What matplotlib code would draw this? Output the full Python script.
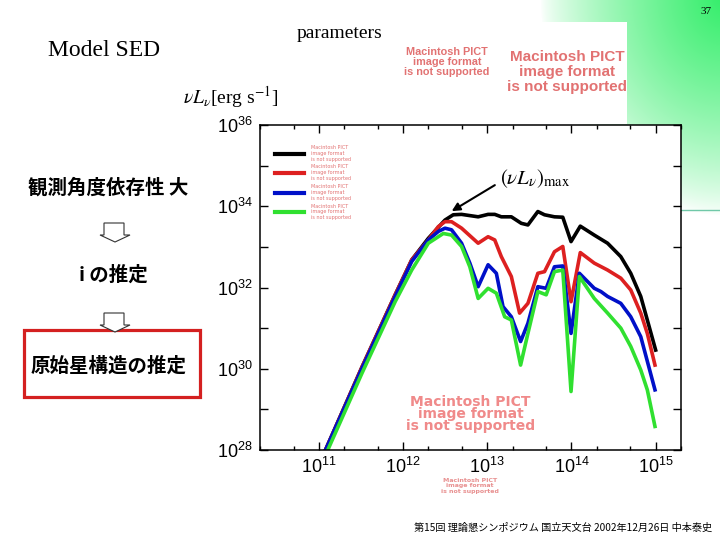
import numpy as np
import matplotlib.pyplot as plt
from matplotlib.patches import Rectangle, Polygon
from matplotlib.ticker import LogLocator, FuncFormatter, NullFormatter

# SED curves (log10 nu [Hz], log10 nuL_nu [erg/s])
log_nu_black = [11.0, 11.079, 11.512, 11.906, 12.103, 12.300, 12.498, 12.596, 12.695, 12.892,
                13.010, 13.089, 13.167, 13.286, 13.404, 13.483, 13.601, 13.680, 13.798, 13.897,
                13.995, 14.105, 14.271, 14.429, 14.586, 14.704, 14.823, 14.901, 15.0]
log_L_black = [27.66, 28.0, 30.04, 31.82, 32.68, 33.21, 33.66, 33.79, 33.80, 33.74,
               33.80, 33.80, 33.74, 33.74, 33.58, 33.54, 33.87, 33.79, 33.74, 33.73,
               33.13, 33.51, 33.29, 33.09, 32.76, 32.35, 31.78, 31.20, 30.46]

log_nu_red = [11.0, 11.079, 11.512, 11.906, 12.103, 12.300, 12.419, 12.498, 12.576, 12.695,
              12.892, 13.010, 13.089, 13.167, 13.286, 13.384, 13.483, 13.601, 13.680, 13.798,
              13.897, 13.995, 14.105, 14.271, 14.429, 14.586, 14.704, 14.823, 14.901, 14.992]
log_L_red = [27.66, 28.0, 30.04, 31.82, 32.68, 33.17, 33.50, 33.62, 33.62, 33.46,
             33.09, 33.25, 33.17, 32.76, 32.27, 31.37, 31.61, 32.35, 32.39, 32.88,
             33.01, 31.65, 32.86, 32.60, 32.43, 32.23, 31.94, 31.37, 30.87, 30.09]

log_nu_blue = [11.0, 11.079, 11.512, 11.906, 12.103, 12.300, 12.419, 12.498, 12.576, 12.695,
               12.793, 12.892, 13.010, 13.108, 13.187, 13.286, 13.396, 13.483, 13.601, 13.700,
               13.798, 13.897, 13.995, 14.094, 14.271, 14.350, 14.429, 14.586, 14.704, 14.823,
               14.992]
log_L_blue = [27.66, 28.0, 30.01, 31.78, 32.64, 33.17, 33.38, 33.46, 33.42, 33.09,
              32.60, 32.02, 32.56, 32.35, 31.53, 31.28, 30.67, 31.12, 32.02, 31.98,
              32.51, 32.53, 30.87, 32.35, 31.98, 31.90, 31.78, 31.61, 31.28, 30.79,
              29.48]

log_nu_green = [11.03, 11.106, 11.512, 11.906, 12.103, 12.300, 12.419, 12.478, 12.576, 12.695,
                12.793, 12.892, 13.010, 13.108, 13.207, 13.286, 13.396, 13.483, 13.601, 13.700,
                13.798, 13.897, 13.995, 14.094, 14.271, 14.429, 14.586, 14.704, 14.823, 14.901,
                14.992]
log_L_green = [27.68, 28.0, 29.89, 31.65, 32.43, 33.09, 33.25, 33.33, 33.29, 33.01,
               32.51, 31.73, 31.98, 31.86, 31.28, 31.20, 30.09, 30.87, 31.90, 31.82,
               32.39, 32.43, 29.44, 32.27, 31.73, 31.37, 31.00, 30.55, 29.97, 29.48,
               28.58]

curves = [
    (log_nu_black, log_L_black, 'black'),
    (log_nu_red, log_L_red, '#dd2020'),
    (log_nu_blue, log_L_blue, '#0010c8'),
    (log_nu_green, log_L_green, '#30e030'),
]

peak_log_nu, peak_log_L = 12.578, 33.88
pict = "Macintosh PICT\nimage format\nis not supported"
pict_color = '#e27272'
jp = ['Noto Sans CJK JP', 'DejaVu Sans']
serif = 'Liberation Serif'

fig = plt.figure(figsize=(7.2, 5.4), dpi=100)

# slide background with the green corner
bg = fig.add_axes([0, 0, 1, 1])
yy, xx = np.mgrid[0:540, 0:720]
d = np.sqrt(((725 - xx) / 185.0) ** 2 + ((yy + 5) / 220.0) ** 2)
w = np.clip(1 - d, 0, 1) ** 0.75
green = np.array([50, 238, 105]) / 255.0
img = 1 - w[..., None] * (1 - green[None, None, :])
bg.imshow(img, extent=[0, 720, 540, 0], aspect='auto', zorder=0)
bg.set_xlim(0, 720)
bg.set_ylim(540, 0)
bg.axis('off')

bg.add_patch(Rectangle((503, 22), 124, 102, fc='white', ec='none', zorder=1))
bg.plot([681, 720], [210, 210], color='#70c8a8', lw=1, zorder=1)

bg.text(706, 12, "37", fontsize=8, family=serif, ha='center', va='center')
bg.text(48, 50, "Model SED", fontsize=17, family=serif, ha='left', va='center')
bg.text(297, 34, "parameters", fontsize=14, family=serif, ha='left', va='center')
bg.text(183, 97, r"$\nu L_\nu$[erg s$^{-1}$]", fontsize=14, family=serif,
        math_fontfamily='stix', ha='left', va='center')
bg.text(447, 62, pict, fontsize=7.8, family='Liberation Sans', weight='bold',
        color=pict_color, ha='center', va='center', linespacing=1.05)
bg.text(567, 72, pict, fontsize=11, family='Liberation Sans', weight='bold',
        color=pict_color, ha='center', va='center', linespacing=1.05)
bg.text(470, 486, pict, fontsize=4.5, family='DejaVu Sans', weight='bold',
        color='#e89090', ha='center', va='center', linespacing=1.0)

bg.text(108, 188, "観測角度依存性 大", fontsize=14, family=jp, weight='bold',
        ha='center', va='center')
bg.text(113, 275, "i の推定", fontsize=14, family=jp, weight='bold', ha='center', va='center')
bg.text(109, 366, "原始星構造の推定", fontsize=14, family=jp, weight='bold',
        ha='center', va='center')
bg.add_patch(Rectangle((24, 330), 176, 67, fc='none', ec='#d42020', lw=2.3, zorder=2))
for top in (223, 313):
    arrow = [(104, top), (124, top), (124, top + 12), (130, top + 12), (115, top + 19),
             (100, top + 12), (104, top + 12)]
    bg.add_patch(Polygon(arrow, closed=True, fc='white', ec='#333333', lw=0.8, zorder=2))

bg.text(712, 528, "第15回 理論懇シンポジウム 国立天文台 2002年12月26日 中本泰史",
        fontsize=7.3, family=jp, ha='right', va='center')

# SED plot
ax = fig.add_axes([260 / 720, 1 - 450 / 540, 421 / 720, 325 / 540], zorder=3)
ax.set_facecolor('white')
for lnu, lL, c in curves:
    ax.plot(10 ** np.array(lnu), 10 ** np.array(lL), color=c, lw=2.6,
            label=pict, solid_joinstyle='round')

ax.set_xscale('log')
ax.set_yscale('log')
ax.set_xlim(2e10, 2e15)
ax.set_ylim(1e28, 1e36)

ax.xaxis.set_major_locator(LogLocator(base=10, numticks=20))
ax.xaxis.set_minor_locator(LogLocator(base=10, subs=(2, 5), numticks=20))
ax.xaxis.set_minor_formatter(NullFormatter())
ax.xaxis.set_major_formatter(FuncFormatter(lambda v, p: r"$\mathregular{10^{%d}}$" % round(np.log10(v))))
ax.yaxis.set_major_locator(LogLocator(base=10, numticks=20))
ax.yaxis.set_minor_locator(LogLocator(base=10, subs=(), numticks=20))
ax.yaxis.set_minor_formatter(NullFormatter())


def ylab(v, p):
    e = int(round(np.log10(v)))
    return r"$\mathregular{10^{%d}}$" % e if e % 2 == 0 else ""


ax.yaxis.set_major_formatter(FuncFormatter(ylab))
ax.tick_params(which='both', direction='in', top=True, right=True, width=1, colors='black')
ax.tick_params(which='major', length=6, labelsize=13, pad=5)
ax.tick_params(which='minor', length=3)
for lab in ax.get_xticklabels() + ax.get_yticklabels():
    lab.set_family('Liberation Sans')
for s in ax.spines.values():
    s.set_linewidth(1.1)

ax.annotate("", xy=(10 ** peak_log_nu, 10 ** peak_log_L), xytext=(10 ** 13.09, 10 ** 34.52),
            arrowprops=dict(arrowstyle='-|>', color='black', lw=1.5, mutation_scale=12,
                            shrinkA=0, shrinkB=0))
ax.text(10 ** 13.15, 10 ** 34.68, r"$(\nu L_\nu)_{\rm max}$", fontsize=15,
        math_fontfamily='stix', ha='left', va='center')

ax.text(0.5, 0.11, pict, transform=ax.transAxes, fontsize=10, family='DejaVu Sans',
        weight='bold', color='#f08a8a', ha='center', va='center', linespacing=0.8)

leg = ax.legend(loc='upper left', bbox_to_anchor=(0.025, 0.952), frameon=False, fontsize=3.5,
                labelcolor=pict_color, handlelength=6, handletextpad=1.5, labelspacing=0.6)
for line in leg.get_lines():
    line.set_linewidth(3)

fig.savefig('out.png', dpi=100)
